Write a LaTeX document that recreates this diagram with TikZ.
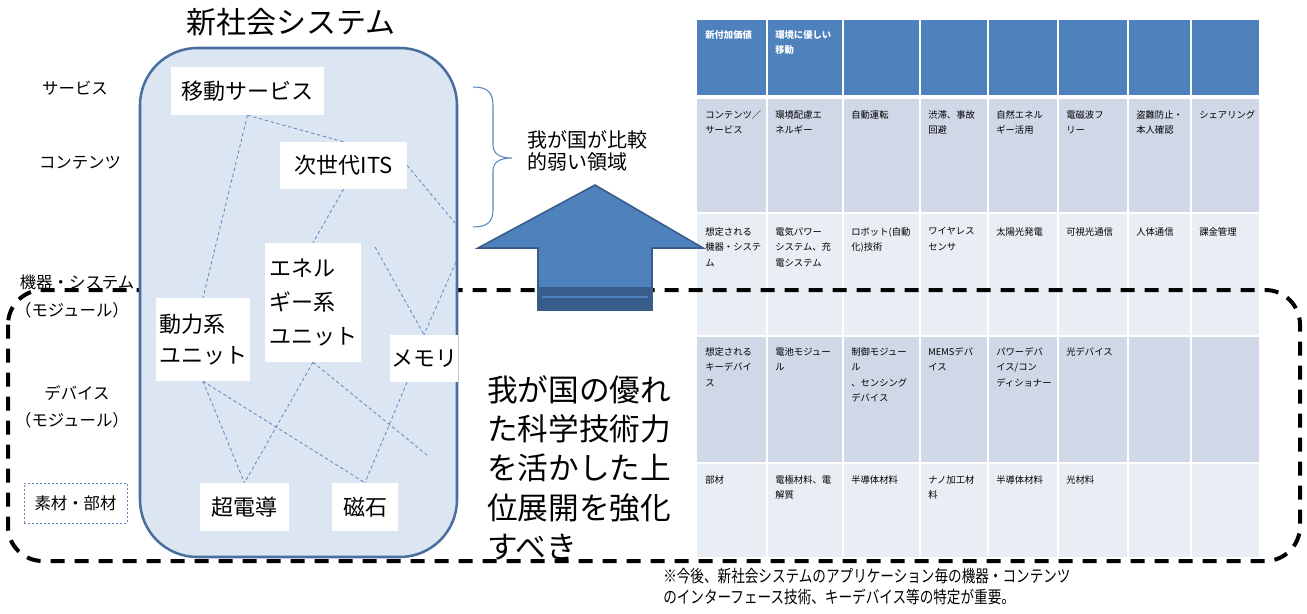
\documentclass[tikz,border=0pt]{standalone}
\usepackage{fontspec}
\setmainfont{Noto Sans CJK JP}
\usetikzlibrary{calc}
\definecolor{hdr}{HTML}{4F81BD}
\definecolor{rowA}{HTML}{D0D8E8}
\definecolor{rowB}{HTML}{E9EDF4}
\definecolor{sysfill}{HTML}{DCE6F2}
\definecolor{sysline}{HTML}{4A6E9E}
\definecolor{connc}{HTML}{5B86C0}
\definecolor{arrline}{HTML}{385D8A}
\tikzset{
  cellhdr/.style={anchor=north west, inner sep=0pt, align=left, text=white, font=\fontsize{7}{11.6}\selectfont\bfseries},
  celltxt/.style={anchor=north west, inner sep=0pt, align=left, font=\fontsize{7}{11.6}\selectfont},
  sysbox/.style={fill=white, inner sep=0pt, align=left, font=\fontsize{16.5}{24}\selectfont},
  linkline/.style={draw=connc, line width=0.6pt, dash pattern=on 2.5pt off 2pt},
  leftlab/.style={inner sep=0pt, font=\fontsize{12.3}{14}\selectfont},
  bigdash/.style={draw=black, line width=3pt, dash pattern=on 10.5pt off 7.5pt},
  gridline/.style={draw=white, line width=1.5pt},
}
\begin{document}
\begin{tikzpicture}[x=0.75pt, y=-0.75pt]
\useasboundingbox (0,0) rectangle (1307,614);

% ---------- table ----------
\fill[hdr]  (697,20)  rectangle (1259,96);
\fill[rowA] (697,96)  rectangle (1259,213);
\fill[rowB] (697,213) rectangle (1259,336);
\fill[rowA] (697,336) rectangle (1259,463);
\fill[rowB] (697,463) rectangle (1259,557);
\foreach \gx in {767,843,920,988,1058,1128,1191}
  \draw[gridline] (\gx,20) -- (\gx,557);
\draw[draw=white, line width=3pt] (697,97) -- (1259,97);
\foreach \gy in {213,336,463}
  \draw[gridline] (697,\gy) -- (1259,\gy);

% header
\node[cellhdr] (h1) at (705,30) {新付加価値};
\node[cellhdr] (h2) at (775,30) {環境に優しい\\移動};
% row 1
\node[celltxt] (a1) at (705,110) {コンテンツ／\\サービス};
\node[celltxt] (a2) at (775,110) {環境配慮エ\\ネルギー};
\node[celltxt] (a3) at (851,110) {自動運転};
\node[celltxt] (a4) at (928,110) {渋滞、事故\\回避};
\node[celltxt] (a5) at (996,110) {自然エネル\\ギー活用};
\node[celltxt] (a6) at (1066,110) {電磁波フ\\リー};
\node[celltxt] (a7) at (1136,110) {盗難防止・\\本人確認};
\node[celltxt] (a8) at (1199,110) {シェアリング};
% row 2
\node[celltxt] (b1) at (705,227) {想定される\\機器・システ\\ム};
\node[celltxt] (b2) at (775,227) {電気パワー\\システム、充\\電システム};
\node[celltxt] (b3) at (851,227) {ロボット(自動\\化)技術};
\node[celltxt] (b4) at (928,227) {ワイヤレス\\センサ};
\node[celltxt] (b5) at (996,227) {太陽光発電};
\node[celltxt] (b6) at (1066,227) {可視光通信};
\node[celltxt] (b7) at (1136,227) {人体通信};
\node[celltxt] (b8) at (1199,227) {課金管理};
% row 3
\node[celltxt] (c1) at (705,347) {想定される\\キーデバイ\\ス};
\node[celltxt] (c2) at (775,347) {電池モジュー\\ル};
\node[celltxt] (c3) at (851,347) {制御モジュー\\ル\\、センシング\\デバイス};
\node[celltxt] (c4) at (928,347) {MEMSデバ\\イス};
\node[celltxt] (c5) at (996,347) {パワーデバ\\イス/コン\\ディショナー};
\node[celltxt] (c6) at (1066,347) {光デバイス};
% row 4
\node[celltxt] (d1) at (705,475) {部材};
\node[celltxt] (d2) at (775,475) {電極材料、電\\解質};
\node[celltxt] (d3) at (851,475) {半導体材料};
\node[celltxt] (d4) at (928,475) {ナノ加工材\\料};
\node[celltxt] (d5) at (996,475) {半導体材料};
\node[celltxt] (d6) at (1066,475) {光材料};

% ---------- big dashed region ----------
\draw[bigdash, rounded corners=26pt] (8,290) rectangle (1300,561);

% ---------- system box ----------
\draw[draw=sysline, fill=sysfill, line width=1.9pt, rounded corners=43pt] (140,48) rectangle (457,557);

\coordinate (r1) at (455,223);
\coordinate (r2) at (375,247);
\coordinate (r3) at (456,262);
\coordinate (r4) at (427,455);

\node[sysbox, minimum width=153*0.75pt, minimum height=48*0.75pt] (mob) at (247.5,91) {移動サービス};
\node[sysbox, minimum width=127*0.75pt, minimum height=47*0.75pt] (its) at (343.5,165.5) {次世代ITS};
\node[sysbox, minimum width=96*0.75pt, minimum height=119*0.75pt, font=\fontsize{16.5}{25.5}\selectfont] (ene) at (313,302.5) {エネル\\ギー系\\ユニット};
\node[sysbox, minimum width=94*0.75pt, minimum height=83*0.75pt, font=\fontsize{16.5}{23}\selectfont] (pow) at (203,339.5) {動力系\\ユニット};
\node[sysbox, minimum width=68*0.75pt, minimum height=47*0.75pt] (mem) at (424,358.5) {メモリ};
\node[sysbox, minimum width=89*0.75pt, minimum height=48*0.75pt] (sc) at (244.5,507) {超電導};
\node[sysbox, minimum width=66*0.75pt, minimum height=48*0.75pt] (mag) at (365,507) {磁石};

\draw[linkline] (mob.south) -- (its.north);
\draw[linkline] (mob.south) -- (pow.north);
\draw[linkline] (its.east) -- (r1);
\draw[linkline] (its.south) -- (ene.north);
\draw[linkline] (r2) -- (mem.north);
\draw[linkline] (r3) -- (mem.north);
\draw[linkline] (pow.south) -- (sc.north);
\draw[linkline] (pow.south) -- (mag.north);
\draw[linkline] (ene.south) -- (sc.north);
\draw[linkline] (ene.south) -- (r4);
\draw[linkline] ($(mem.south)+(-17,0)$) -- (mag.north);

% ---------- title & left labels ----------
\node[inner sep=0pt, font=\fontsize{22.5}{26}\selectfont] (title) at (291,22) {新社会システム};
\node[leftlab] (l1) at (75,88) {サービス};
\node[leftlab] (l2) at (80,163) {コンテンツ};
\node[leftlab] (l3) at (77,282) {機器・システム};
\node[leftlab] (l4) at (72,310) {（モジュール）};
\node[leftlab] (l5) at (77,393) {デバイス};
\node[leftlab] (l6) at (72,420) {（モジュール）};
\node[leftlab, draw=connc, line width=0.6pt, dash pattern=on 1.5pt off 1.5pt, minimum width=103*0.75pt, minimum height=40*0.75pt] (l7) at (75.5,503) {素材・部材};

% ---------- brace ----------
\draw[draw=connc, line width=0.8pt] (473,87) .. controls (487,87) and (493,92) .. (493,105) -- (493,145)
  .. controls (493,154) and (500,158) .. (512,158)
  .. controls (500,158) and (493,162) .. (493,171) -- (493,210)
  .. controls (493,222) and (487,227) .. (473,227);
\node[inner sep=0pt, align=left, anchor=west, font=\fontsize{15}{16.5}\selectfont] (weak) at (527,151) {我が国が比較\\的弱い領域};

% ---------- arrow ----------
\draw[fill=hdr, draw=arrline, line width=1.2pt] (595,185) -- (703,248) -- (652,248) -- (652,310) -- (538,310) -- (538,248) -- (478,248) -- cycle;
\fill[arrline] (538,287) rectangle (652,310);
\draw[hdr, line width=1.5pt] (542,297) -- (648,297);

% ---------- big text ----------
\node[inner sep=0pt, align=left, anchor=north west, font=\fontsize{23}{29.5}\selectfont] (strong) at (487,375) {我が国の優れ\\た科学技術力\\を活かした上\\位展開を強化\\すべき};

% ---------- footnote ----------
\node[inner sep=0pt, anchor=west, font=\fontsize{12.75}{14}\selectfont] (n1) at (663,576) {\scalebox{0.8}[1]{※今後、新社会システムのアプリケーション毎の機器・コンテンツ}};
\node[inner sep=0pt, anchor=west, font=\fontsize{12.75}{14}\selectfont] (n2) at (663,597) {\scalebox{0.8}[1]{のインターフェース技術、キーデバイス等の特定が重要。}};
\end{tikzpicture}
\end{document}
